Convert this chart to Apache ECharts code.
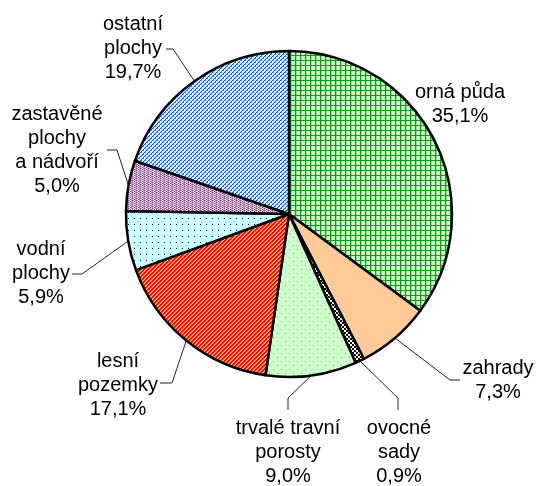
<!DOCTYPE html>
<html>
<head>
<meta charset="utf-8">
<script src="https://cdn.jsdelivr.net/npm/echarts@6/dist/echarts.min.js"></script>
<style>
  html, body { margin: 0; padding: 0; background: #fff; }
  #chart { width: 538px; height: 486px; }
</style>
</head>
<body>
<div id="chart"></div>
<script>
// data
const categories = ['orná půda', 'zahrady', 'ovocné sady', 'trvalé travní porosty', 'lesní pozemky', 'vodní plochy', 'zastavěné plochy a nádvoří', 'ostatní plochy'];
const labelNames = ['orná půda', 'zahrady', 'ovocné\nsady', 'trvalé travní\nporosty', 'lesní\npozemky', 'vodní\nplochy', 'zastavěné\nplochy\na nádvoří', 'ostatní\nplochy'];
const shares = [35.1, 7.3, 0.9, 9.0, 17.1, 5.9, 5.0, 19.7];

// where each label sits + leader line elbow / end
const labelSpots = [
  { x: 460, y: 104 },
  { x: 498, y: 380, line: [[450, 380], [460, 380]] },
  { x: 399, y: 452, line: [[398, 398], [398, 410]] },
  { x: 288, y: 452, line: [[288, 398], [288, 410]] },
  { x: 118, y: 385, line: [[172, 383], [160, 383]] },
  { x: 41, y: 273, line: [[82, 274], [72, 274]] },
  { x: 57, y: 150, line: [[117, 150], [107, 150]] },
  { x: 133, y: 48, line: [[173, 49], [166, 49]] }
];

// little pixel patterns like the excel fills
function makePattern(w, h, bg, draw) {
  const c = document.createElement('canvas');
  c.width = w; c.height = h;
  const ctx = c.getContext('2d');
  ctx.fillStyle = bg;
  ctx.fillRect(0, 0, w, h);
  draw(ctx);
  return { image: c, repeat: 'repeat' };
}
function px(ctx, color, x, y) { ctx.fillStyle = color; ctx.fillRect(x, y, 1, 1); }

const fills = [
  makePattern(5, 5, '#ccffcc', ctx => {
    ctx.fillStyle = '#99dd99'; ctx.fillRect(1, 0, 1, 5);
    ctx.fillStyle = '#119911'; ctx.fillRect(0, 0, 1, 5); ctx.fillRect(0, 0, 5, 1);
  }),
  '#ffcc99',
  makePattern(4, 4, '#ffffff', ctx => {
    ctx.fillStyle = '#000'; ctx.fillRect(0, 0, 2, 2); ctx.fillRect(2, 2, 2, 2);
  }),
  makePattern(8, 8, '#ccffcc', ctx => { px(ctx, '#a8b040', 1, 1); px(ctx, '#a8b040', 5, 5); }),
  makePattern(4, 4, '#ffcc99', ctx => {
    for (let x = 0; x < 4; x++) for (let y = 0; y < 4; y++) {
      const k = (x + y) % 4;
      if (k === 0) px(ctx, '#ff0000', x, y);
      if (k === 1) px(ctx, '#ff1100', x, y);
      if (k === 2) px(ctx, '#ff7744', x, y);
    }
  }),
  makePattern(6, 6, '#ccffff', ctx => { px(ctx, '#0000ff', 2, 2); }),
  makePattern(4, 2, '#ffffff', ctx => {
    px(ctx, '#993399', 0, 0); px(ctx, '#cc99cc', 1, 0); px(ctx, '#cc99cc', 3, 0);
    px(ctx, '#cc99cc', 0, 1); px(ctx, '#993399', 2, 1); px(ctx, '#cc99cc', 3, 1);
  }),
  makePattern(4, 4, '#ccffff', ctx => {
    for (let x = 0; x < 4; x++) for (let y = 0; y < 4; y++) {
      if ((x + y) % 4 === 0) px(ctx, '#2244ff', x, y);
    }
    px(ctx, '#5577ff', 1, 0); px(ctx, '#5577ff', 3, 2);
  })
];

const chart = echarts.init(document.getElementById('chart'));

const seriesData = categories.map((name, i) => {
  const item = {
    name: name,
    value: shares[i],
    itemStyle: { color: fills[i] },
    label: { formatter: labelNames[i] + '\n' + shares[i].toFixed(1).replace('.', ',') + '%' }
  };
  if (!labelSpots[i].line) item.labelLine = { show: false };
  return item;
});

chart.setOption({
  animation: false,
  series: [{
    type: 'pie',
    center: [289, 214],
    radius: 163,
    startAngle: 90,
    clockwise: true,
    avoidLabelOverlap: false,
    itemStyle: { borderColor: '#000', borderWidth: 2.5 },
    emphasis: { disabled: true },
    label: {
      show: true,
      position: 'outside',
      color: '#000',
      fontFamily: 'Liberation Sans, Arial, sans-serif',
      fontSize: 20,
      lineHeight: 24
    },
    labelLine: { show: true, lineStyle: { color: '#222', width: 1 } },
    labelLayout: function (params) {
      const spot = labelSpots[params.dataIndex];
      const out = { x: spot.x, y: spot.y, align: 'center', verticalAlign: 'middle' };
      if (spot.line && params.labelLinePoints) {
        out.labelLinePoints = [params.labelLinePoints[0], spot.line[0], spot.line[1]];
      }
      return out;
    },
    data: seriesData
  }]
});
</script>
</body>
</html>
